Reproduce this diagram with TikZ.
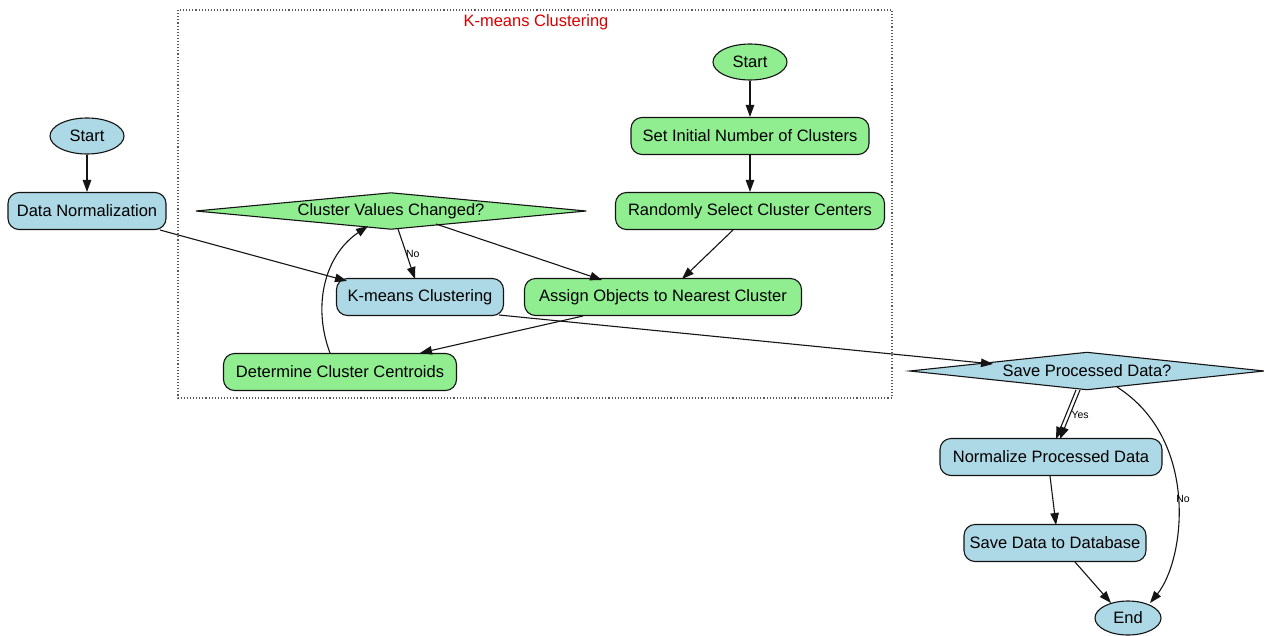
\documentclass[tikz,border=0pt]{standalone}
\usepackage{fontspec}
\setmainfont{Liberation Sans}
\usetikzlibrary{arrows.meta,shapes.geometric,backgrounds}
\definecolor{blueF}{RGB}{173,216,230}
\definecolor{greenF}{RGB}{144,238,144}
\definecolor{lineC}{RGB}{20,20,20}
\tikzset{
  base/.style={draw=lineC, line width=1.1pt, font=\fontsize{16.5}{19}\selectfont, inner sep=0pt},
  proc/.style={base, rectangle, rounded corners=11pt, minimum height=37pt},
  term/.style={base, ellipse},
  decn/.style={rectangle, inner sep=0pt, font=\fontsize{16.5}{19}\selectfont},
  arr/.style={draw=lineC, line width=1.1pt, -{Triangle[length=12pt,width=8.5pt]}},
  elab/.style={font=\fontsize{10.5}{12}\selectfont, inner sep=1pt},
}
\begin{document}
\begin{tikzpicture}[x=1pt,y=-1pt]
\useasboundingbox (0,0) rectangle (1264,635);

% cluster box
\draw[dotted, line width=1.1pt, draw=black!65] (178,10) rectangle (892,398);
\node[text=red!85!black, font=\fontsize{16.5}{19}\selectfont] (title) at (536,22) {K-means Clustering};

% left chain
\node[term, fill=blueF, minimum width=74pt, minimum height=36pt] (s1) at (87,136) {Start};
\node[proc, fill=blueF, minimum width=158pt] (dn) at (87,211) {Data Normalization};

% cluster nodes
\node[term, fill=greenF, minimum width=74pt, minimum height=36pt] (s2) at (750,62) {Start};
\node[proc, fill=greenF, minimum width=238pt] (si) at (750,136) {Set Initial Number of Clusters};
\node[proc, fill=greenF, minimum width=269pt] (rs) at (750,211) {Randomly Select Cluster Centers};
\node[decn, minimum width=390pt, minimum height=36pt] (cv) at (391,211) {Cluster Values Changed?};
\node[proc, fill=blueF, minimum width=167pt] (km) at (420,297) {K-means Clustering};
\node[proc, fill=greenF, minimum width=277pt] (as) at (663,297) {Assign Objects to Nearest Cluster};
\node[proc, fill=greenF, minimum width=233pt] (dc) at (340,372) {Determine Cluster Centroids};

% right side
\node[decn, minimum width=354pt, minimum height=37pt] (sp) at (1087,371) {Save Processed Data?};
\node[proc, fill=blueF, minimum width=222pt] (np) at (1051,457) {Normalize Processed Data};
\node[proc, fill=blueF, minimum width=182pt] (sd) at (1055,543) {Save Data to Database};
\node[term, fill=blueF, minimum width=66pt, minimum height=34pt] (en) at (1128,618) {End};

\begin{scope}[on background layer]
  \fill[white] (0,0) rectangle (1264,635);
  \filldraw[fill=greenF, draw=lineC, line width=1.1pt] (cv.west) -- (cv.north) -- (cv.east) -- (cv.south) -- cycle;
  \filldraw[fill=blueF, draw=lineC, line width=1.1pt] (sp.west) -- (sp.north) -- (sp.east) -- (sp.south) -- cycle;
\end{scope}

% edges
\draw[arr] (s1.south) -- (dn.north);
\draw[arr] ([shift={(73,19)}]dn.center) -- ([shift={(-73,-16)}]km.center);
\draw[arr] ([shift={(7,18)}]cv.center) -- node[elab, anchor=west, pos=0.5, xshift=-2pt] {No} ([shift={(-5,-18)}]km.center);
\draw[arr] ([shift={(45,13)}]cv.center) -- ([shift={(-61,-17)}]as.center);
\draw[arr] (s2.south) -- (si.north);
\draw[arr] (si.south) -- (rs.north);
\draw[arr] ([shift={(-17,19)}]rs.center) -- ([shift={(19,-18)}]as.center);
\draw[arr] ([shift={(-80,19)}]as.center) -- ([shift={(80,-19)}]dc.center);
\draw[arr] ([shift={(-10,-19)}]dc.center) .. controls (312,305) and (325,255) .. ([shift={(-23,15)}]cv.center);
\draw[arr] ([shift={(79,18)}]km.center) -- ([shift={(-94,-7)}]sp.center);
\draw[arr] ([shift={(-11,19)}]sp.center) -- ([shift={(5,-18)}]np.center);
\draw[arr] ([shift={(-7,19)}]sp.center) -- node[elab, anchor=west, pos=0.5] {Yes} ([shift={(9,-18)}]np.center);
\draw[arr] ([shift={(30,16)}]sp.center) .. controls (1200,440) and (1185,560) .. node[elab, pos=0.5, anchor=west, xshift=-3pt] {No} ([shift={(22,-15)}]en.center);
\draw[arr] ([shift={(-1,19)}]np.center) -- ([shift={(1,-18)}]sd.center);
\draw[arr] ([shift={(20,19)}]sd.center) -- ([shift={(-17,-15)}]en.center);
\end{tikzpicture}
\end{document}
